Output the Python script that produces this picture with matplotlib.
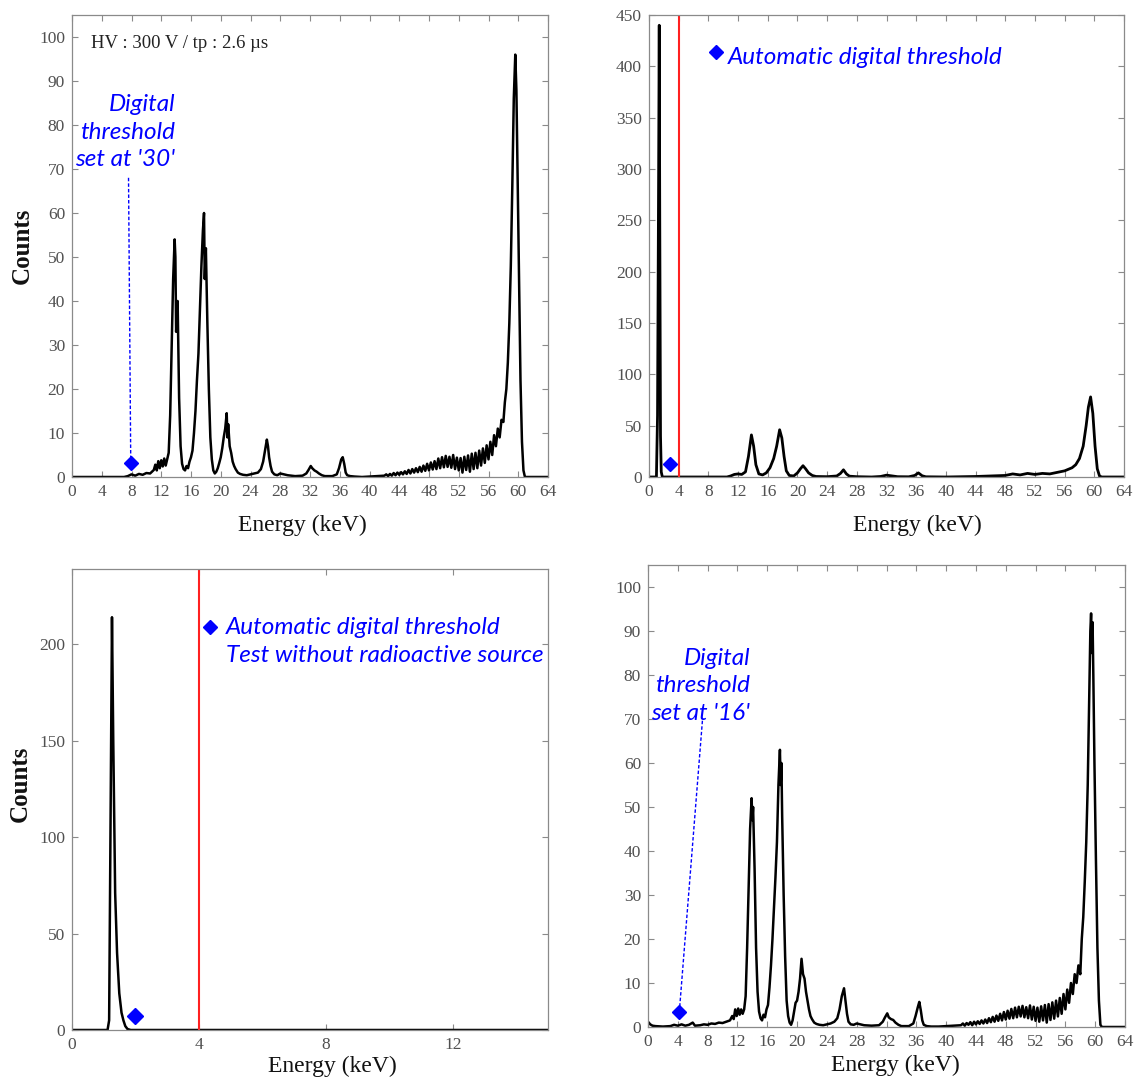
import numpy as np
import matplotlib
matplotlib.use("Agg")
import matplotlib.pyplot as plt

# ---- data (energy in keV, counts) ----
tl_energy = [0, 7.0, 7.5, 8.0, 8.5, 9.0, 9.5, 10.0, 10.5, 11.0, 11.2, 11.4, 11.6, 11.8, 12.0, 12.2,
             12.4, 12.6, 12.8, 13.0, 13.2, 13.4, 13.6, 13.8, 13.9, 14.0, 14.2, 14.4, 14.6, 14.8, 15.0,
             15.2, 15.4, 15.6, 15.8, 16.0, 16.2, 16.4, 16.6, 16.8, 17.0, 17.2, 17.4, 17.6, 17.75, 17.85,
             18.0, 18.2, 18.4, 18.6, 18.8, 19.0, 19.2, 19.4, 19.6, 19.8, 20.0, 20.2, 20.4, 20.6, 20.8,
             20.9, 21.0, 21.2, 21.4, 21.6, 21.8, 22.0, 22.3, 22.6, 23.0, 23.5, 24.0, 24.5, 25.0, 25.4,
             25.7, 26.0, 26.2, 26.35, 26.5, 26.7, 26.9, 27.2, 27.6, 28.0, 28.5, 29.0, 30.0, 31.0, 31.5,
             31.8, 32.1, 32.3, 32.6, 32.9, 33.2, 33.6, 34.0, 35.0, 35.6, 35.9, 36.2, 36.4, 36.6, 36.8,
             37.0, 37.4, 38.0, 39.0, 40.0, 41.0,
             42.0, 42.25, 42.5, 42.75, 43.0, 43.25, 43.5, 43.75, 44.0, 44.25, 44.5, 44.75, 45.0, 45.25,
             45.5, 45.75, 46.0, 46.25, 46.5, 46.75, 47.0, 47.25, 47.5, 47.75, 48.0, 48.25, 48.5, 48.75,
             49.0, 49.25, 49.5, 49.75, 50.0, 50.25, 50.5, 50.75, 51.0, 51.25, 51.5, 51.75, 52.0, 52.25,
             52.5, 52.75, 53.0, 53.25, 53.5, 53.75, 54.0, 54.25, 54.5, 54.75, 55.0, 55.25, 55.5, 55.75,
             56.0, 56.25, 56.5, 56.75, 57.0, 57.25, 57.5, 57.75, 58.0, 58.2, 58.4, 58.6, 58.8, 59.0,
             59.2, 59.4, 59.6, 59.75, 59.9, 60.1, 60.3, 60.5, 60.7, 60.9, 64.0]
tl_counts = [0, 0, 0.2, 0.6, 0.3, 0.7, 0.5, 0.9, 0.8, 1.6, 2.8, 1.5, 3.6, 2.0, 3.8, 2.4,
             4.2, 2.6, 4.0, 5.5, 14, 30, 45, 54, 50, 33, 40, 18, 7, 3, 1.8,
             1.5, 2.5, 2.0, 3.5, 4.5, 6, 10, 15, 22, 28, 38, 48, 56, 60, 45,
             52, 35, 20, 9, 4, 1.5, 0.8, 1.2, 2.0, 3.2, 4.5, 6.5, 9, 11, 14.5,
             9, 12, 7, 5.5, 3.5, 2.5, 1.8, 1.0, 0.7, 0.5, 0.4, 0.6, 0.8, 1.0, 1.8,
             3.5, 6.5, 8.5, 7, 4.5, 2.5, 1.2, 0.6, 0.4, 0.8, 0.6, 0.4, 0.2, 0.3, 0.8,
             1.6, 2.5, 2.0, 1.5, 1.2, 0.8, 0.4, 0.2, 0.2, 0.6, 2.0, 4.0, 4.5, 3.0, 1.0,
             0.4, 0.2, 0.1, 0, 0.1, 0.2,
             0.3, 0.6, 0.2, 0.7, 0.3, 0.9, 0.4, 1.0, 0.5, 1.1, 0.6, 1.3, 0.7, 1.6,
             0.8, 1.8, 1.0, 2.0, 1.1, 2.3, 1.2, 2.6, 1.4, 3.0, 1.5, 3.3, 1.7, 3.6,
             1.8, 4.2, 2.0, 4.5, 2.2, 4.8, 2.3, 4.6, 2.1, 5.0, 1.8, 4.4, 1.5, 4.3,
             1.0, 4.6, 1.6, 4.9, 1.2, 5.3, 1.8, 5.5, 2.0, 6.0, 2.6, 6.5, 3.2, 7.2,
             4.0, 8.0, 5.0, 9.5, 7.0, 11.0, 9.0, 13.0, 12.5, 17, 20, 26, 35, 48,
             66, 86, 96, 88, 70, 45, 22, 8, 1.5, 0, 0]

tr_energy = [0, 1.0, 1.15, 1.3, 1.38, 1.45, 1.55, 1.65, 1.8, 10.5, 11.0, 11.5, 12.0, 12.5, 13.0,
             13.4, 13.8, 14.1, 14.4, 14.8, 15.3, 15.8, 16.3, 16.8, 17.2, 17.6, 17.9, 18.2, 18.5,
             18.9, 19.5, 20.0, 20.4, 20.75, 21.1, 21.5, 22.0, 22.5, 24.0, 25.3, 25.8, 26.2, 26.6,
             27.0, 28.0, 30.0, 31.2, 32.0, 32.8, 33.5, 35.0, 35.8, 36.3, 36.8, 37.3, 40.0, 44.0,
             46.0, 48.0, 49.0, 50.0, 51.0, 52.0, 53.0, 54.0, 55.0, 56.0, 57.0, 57.5, 58.0, 58.5,
             58.9, 59.2, 59.5, 59.8, 60.1, 60.4, 60.7, 61.0, 64.0]
tr_counts = [0, 0, 60, 300, 440, 250, 40, 5, 0, 0, 1, 2.5, 3, 2.5, 5,
             20, 41, 30, 12, 3, 2, 4, 9, 18, 30, 46, 38, 20, 6,
             1.5, 1, 4, 8, 11, 8, 4, 1.5, 0.5, 0.3, 1, 3.5, 7, 3,
             0.8, 0.3, 0, 0.5, 1.8, 1.0, 0.3, 0.2, 1.5, 4, 1.2, 0.2, 0, 0.5,
             1.0, 1.5, 3.0, 2.0, 3.5, 2.5, 3.5, 3.0, 4.5, 6, 9, 12, 18, 30,
             50, 68, 78, 62, 30, 8, 1, 0, 0]

bl_energy = [0, 1.12, 1.17, 1.22, 1.26, 1.30, 1.36, 1.42, 1.49, 1.56, 1.62, 1.68, 1.75, 1.85, 15]
bl_counts = [0, 0, 5, 120, 214, 150, 71, 40, 19, 9, 5, 2, 0.5, 0, 0]

br_energy = [0, 0.3, 0.6, 1.0, 2.0, 3.0, 3.5, 4.0, 4.5, 5.0, 5.5, 6.0, 6.3, 7.0, 7.5, 8.0, 8.5,
             9.0, 9.5, 10.0, 10.5, 11.0, 11.3, 11.5, 11.7, 11.9, 12.1, 12.3, 12.5, 12.7, 12.9,
             13.1, 13.3, 13.5, 13.7, 13.9, 14.0, 14.1, 14.3, 14.5, 14.7, 14.9, 15.1, 15.3, 15.5,
             15.7, 15.9, 16.1, 16.3, 16.5, 16.7, 16.9, 17.1, 17.3, 17.5, 17.7, 17.8, 17.9, 18.0,
             18.2, 18.4, 18.6, 18.8, 19.0, 19.2, 19.4, 19.6, 19.8, 20.0, 20.2, 20.4, 20.6, 20.8,
             21.0, 21.2, 21.4, 21.6, 21.8, 22.0, 22.3, 22.6, 23.0, 23.5, 24.0, 24.5, 25.0, 25.4,
             25.7, 26.0, 26.3, 26.5, 26.7, 26.9, 27.2, 27.6, 28.0, 28.5, 29.0, 30.0, 31.0, 31.5,
             31.8, 32.1, 32.3, 32.6, 32.9, 33.2, 33.6, 34.0, 35.0, 35.6, 35.9, 36.2, 36.4, 36.6,
             36.8, 37.0, 37.4, 38.0, 39.0, 40.0, 41.0,
             42.0, 42.25, 42.5, 42.75, 43.0, 43.25, 43.5, 43.75, 44.0, 44.25, 44.5, 44.75, 45.0, 45.25,
             45.5, 45.75, 46.0, 46.25, 46.5, 46.75, 47.0, 47.25, 47.5, 47.75, 48.0, 48.25, 48.5, 48.75,
             49.0, 49.25, 49.5, 49.75, 50.0, 50.25, 50.5, 50.75, 51.0, 51.25, 51.5, 51.75, 52.0, 52.25,
             52.5, 52.75, 53.0, 53.25, 53.5, 53.75, 54.0, 54.25, 54.5, 54.75, 55.0, 55.25, 55.5, 55.75,
             56.0, 56.25, 56.5, 56.75, 57.0, 57.25, 57.5, 57.75, 58.0, 58.2, 58.4, 58.6, 58.8, 59.0,
             59.2, 59.35, 59.45, 59.55, 59.65, 59.75, 59.9, 60.1, 60.3, 60.5, 60.7, 60.9, 64.0]
br_counts = [1.2, 0.6, 0.3, 0.2, 0.1, 0.2, 0.5, 0.3, 0.6, 0.3, 0.5, 1.0, 0.3, 0.4, 0.6, 0.5, 0.8,
             0.7, 1.0, 0.9, 1.2, 1.5, 2.5, 1.8, 4.0, 2.5, 4.2, 2.8, 4.0, 3.0, 4.0,
             7, 18, 32, 45, 52, 47, 50, 36, 18, 8, 3.5, 2.0, 1.5, 2.8,
             2.2, 4.0, 5.0, 9, 14, 20, 27, 34, 42, 55, 63, 55, 60, 48,
             30, 16, 6, 2.5, 1.0, 0.5, 1.5, 3.5, 5.5, 6, 8, 11, 15.5, 12,
             11, 8, 6, 4, 2.5, 1.8, 1.0, 0.7, 0.5, 0.4, 0.6, 0.8, 1.2, 2.0,
             4.0, 7.0, 8.8, 6, 3, 1.2, 0.6, 0.5, 0.8, 0.6, 0.4, 0.3, 0.4, 1.2,
             2.2, 3.1, 2.2, 1.8, 1.6, 1.0, 0.5, 0.2, 0.2, 0.8, 2.5, 4.5, 5.7, 3.8,
             1.5, 0.5, 0.2, 0.1, 0.1, 0.2, 0.3,
             0.4, 0.8, 0.3, 0.9, 0.5, 1.1, 0.4, 1.2, 0.6, 1.3, 0.7, 1.5, 0.8, 1.7,
             0.9, 2.0, 1.1, 2.3, 1.2, 2.6, 1.4, 3.0, 1.5, 3.4, 1.7, 3.7, 1.9, 4.1,
             2.0, 4.4, 2.2, 4.6, 2.4, 4.8, 2.2, 4.5, 2.0, 4.9, 1.7, 4.6, 1.4, 4.4,
             1.2, 4.7, 1.5, 5.0, 1.0, 5.2, 1.6, 5.6, 1.9, 6.0, 2.4, 6.6, 3.0, 7.5,
             4.0, 8.5, 5.5, 10.0, 7.5, 12.0, 10.0, 14.0, 12.0, 20, 25, 33, 42, 55,
             75, 90, 94, 85, 92, 80, 60, 38, 18, 6, 0.5, 0, 0]

hv_label = "HV : 300 V / tp : 2.6 \u00b5s"
tl_note = "Digital\nthreshold\nset at '30'"
br_note = "Digital\nthreshold\nset at '16'"
tr_note = "Automatic digital threshold"
bl_note = "Automatic digital threshold\nTest without radioactive source"

W, H = 1135, 1081
SERIF = "Liberation Serif"
NOTE_FONT = "Lato"
BLUE = "#0000ff"


def box(left, top, right, bottom):
    # pixel box -> figure fraction
    return [left / W, 1 - bottom / H, (right - left) / W, (bottom - top) / H]


def style(ax, xticks, yticks, xlim, ylim):
    ax.set_xlim(*xlim)
    ax.set_ylim(*ylim)
    ax.set_xticks(xticks)
    ax.set_yticks(yticks)
    for s in ax.spines.values():
        s.set_color("#8a8a8a")
        s.set_linewidth(0.9)
    ax.tick_params(direction="in", top=True, right=True, length=4, width=0.8,
                   color="#8a8a8a", labelcolor="#505050", labelsize=12.5)
    ax.tick_params(axis="x", pad=5)
    ax.tick_params(axis="y", pad=5)
    for lab in ax.get_xticklabels() + ax.get_yticklabels():
        lab.set_fontfamily(SERIF)


fig = plt.figure(figsize=(W / 100, H / 100), dpi=100)

ax_tl = fig.add_axes(box(72, 15, 548, 477))
ax_tr = fig.add_axes(box(649, 15, 1124, 477))
ax_bl = fig.add_axes(box(72, 569, 548, 1030))
ax_br = fig.add_axes(box(648, 565, 1125, 1027))

xt64 = list(range(0, 65, 4))
note_kw = dict(color=BLUE, fontsize=17.5, family=NOTE_FONT, style="italic", linespacing=1.38)

# top left
ax_tl.plot(tl_energy, tl_counts, color="black", lw=1.8)
style(ax_tl, xt64, list(range(0, 101, 10)), (0, 64), (0, 105))
ax_tl.plot([7.6, 7.9], [68, 3.2], color=BLUE, ls=(0, (2.5, 1.5)), lw=1)
ax_tl.plot([7.9], [3.2], marker="D", color=BLUE, ms=7)
ax_tl.text(13.85, 78.4, tl_note, ha="right", va="center", **note_kw)
ax_tl.text(2.5, 98.6, hv_label, ha="left", va="center", fontsize=13.5, family=SERIF,
           color="#222222")

# top right
ax_tr.plot(tr_energy, tr_counts, color="black", lw=2.0)
style(ax_tr, xt64, list(range(0, 451, 50)), (0, 64), (0, 450))
ax_tr.axvline(4, color="#ff2020", lw=1.5)
ax_tr.plot([2.8], [12.7], marker="D", color=BLUE, ms=7)
ax_tr.plot([9.0], [414], marker="D", color=BLUE, ms=7)
ax_tr.text(10.6, 409, tr_note, ha="left", va="center", **note_kw)

# bottom left
ax_bl.plot(bl_energy, bl_counts, color="black", lw=1.8)
style(ax_bl, [0, 4, 8, 12], [0, 50, 100, 150, 200], (0, 15), (0, 239))
ax_bl.axvline(4, color="#ff2020", lw=1.5)
ax_bl.plot([2.0], [7.3], marker="D", color=BLUE, ms=8)
ax_bl.plot([4.35], [209], marker="D", color=BLUE, ms=7)
ax_bl.text(4.85, 201.5, bl_note, ha="left", va="center", **note_kw)

# bottom right
ax_br.plot(br_energy, br_counts, color="black", lw=1.8)
style(ax_br, xt64, list(range(0, 101, 10)), (0, 64), (0, 105))
ax_br.plot([7.3, 4.2], [69.6, 3.4], color=BLUE, ls=(0, (2.5, 1.5)), lw=1)
ax_br.plot([4.2], [3.4], marker="D", color=BLUE, ms=7)
ax_br.text(13.7, 77.6, br_note, ha="right", va="center", **note_kw)

# axis labels
for ax, cx, cy in [(ax_tl, 0.485, -0.082), (ax_tr, 0.565, -0.082),
                   (ax_bl, 0.546, -0.055), (ax_br, 0.518, -0.06)]:
    ax.set_xlabel("Energy (keV)", fontsize=17, family=SERIF, color="#111111")
    ax.xaxis.set_label_coords(cx, cy)
for ax, cx, cy in [(ax_tl, -0.08, 0.5), (ax_bl, -0.085, 0.534)]:
    ax.set_ylabel("Counts", fontsize=18, family=SERIF, weight="bold", color="#111111")
    ax.yaxis.set_label_coords(cx, cy)

fig.savefig("out.png", dpi=100, facecolor="white")
